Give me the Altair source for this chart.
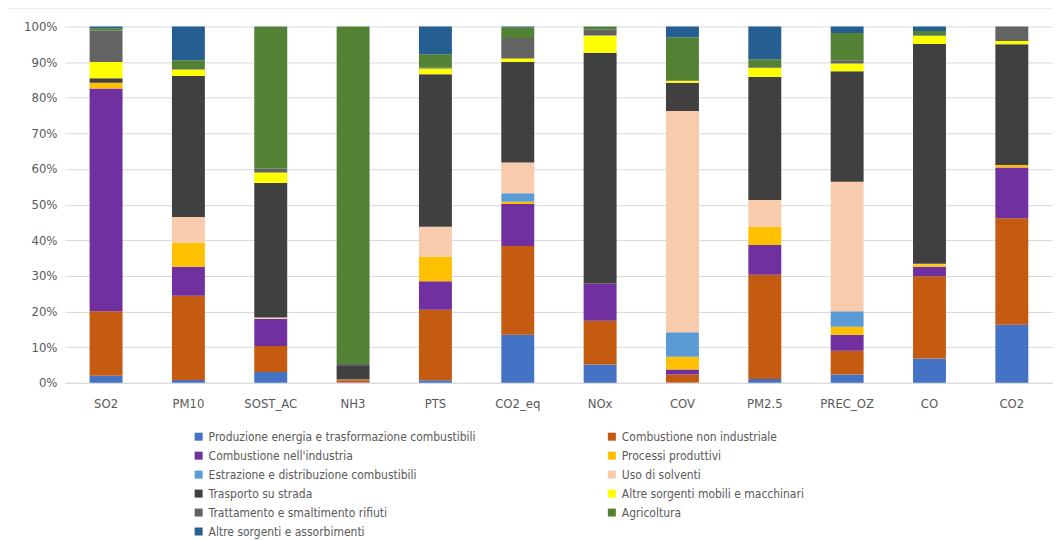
import altair as alt
import pandas as pd

categories = ["SO2", "PM10", "SOST_AC", "NH3", "PTS", "CO2_eq", "NOx", "COV", "PM2.5", "PREC_OZ", "CO", "CO2"]

series_names = [
    "Produzione energia e trasformazione combustibili",
    "Combustione non industriale",
    "Combustione nell'industria",
    "Processi produttivi",
    "Estrazione e distribuzione combustibili",
    "Uso di solventi",
    "Trasporto su strada",
    "Altre sorgenti mobili e macchinari",
    "Trattamento e smaltimento rifiuti",
    "Agricoltura",
    "Altre sorgenti e assorbimenti",
]

prod = [2.0, 0.8, 3.0, 0.1, 0.7, 13.5, 5.1, 0.1, 1.1, 2.3, 6.8, 16.3]
comb_non = [18.1, 23.6, 7.3, 0.6, 19.8, 24.9, 12.3, 2.2, 29.2, 6.7, 23.1, 29.9]
comb_ind = [62.5, 8.2, 7.6, 0.1, 8.0, 11.8, 10.3, 1.4, 8.4, 4.5, 2.7, 14.2]
processi = [1.6, 6.8, 0.1, 0.1, 6.9, 0.6, 0.1, 3.6, 5.1, 2.2, 0.7, 0.7]
estrazione = [0, 0, 0, 0, 0, 2.4, 0, 6.9, 0, 4.4, 0, 0]
solventi = [0, 7.1, 0.3, 0, 8.4, 8.6, 0, 62.1, 7.5, 36.3, 0.1, 0]
trasporto = [1.3, 39.6, 37.8, 3.8, 42.8, 28.2, 64.8, 7.9, 34.5, 31.0, 61.7, 33.9]
altre_mobili = [4.5, 1.8, 2.9, 0, 1.6, 1.0, 4.9, 0.6, 2.6, 2.2, 2.2, 0.9]
rifiuti = [8.9, 0.2, 1.1, 0.6, 0.2, 5.8, 1.6, 0.2, 0.2, 0.9, 0.2, 4.1]
agricoltura = [0.6, 2.4, 39.8, 94.7, 3.8, 3.0, 0.8, 12.0, 2.2, 7.7, 1.2, 0]
altre_sorgenti = [0.5, 9.5, 0.1, 0, 7.8, 0.2, 0.1, 3.0, 9.2, 1.8, 1.3, 0]

colors = ["#4472C4", "#C55A11", "#7030A0", "#FFC000", "#5B9BD5", "#F8CBAD",
          "#404040", "#FFFF00", "#636363", "#548235", "#255E91"]

all_series = [prod, comb_non, comb_ind, processi, estrazione, solventi,
              trasporto, altre_mobili, rifiuti, agricoltura, altre_sorgenti]

rows = []
for si, (name, vals) in enumerate(zip(series_names, all_series)):
    for cat, v in zip(categories, vals):
        rows.append({"cat": cat, "series": name, "idx": si, "val": v})
df = pd.DataFrame(rows)

# legend fills column by column: reorder so rows read pairwise as in the reference
legend_order = [0, 2, 4, 6, 8, 10, 1, 3, 5, 7, 9]
legend_domain = [series_names[i] for i in legend_order]
legend_range = [colors[i] for i in legend_order]

FONT = "Liberation Sans Narrow, DejaVu Sans Condensed, sans-serif"

bars = alt.Chart(df).mark_bar(strokeWidth=0).encode(
    x=alt.X("cat:N", sort=categories, title=None,
            scale=alt.Scale(paddingInner=0.6, paddingOuter=0.3),
            axis=alt.Axis(labelAngle=0, domain=True, domainColor="#d9d9d9", ticks=False,
                          labelPadding=15, labelFontSize=13, labelColor="#595959",
                          labelFont=FONT, grid=False)),
    y=alt.Y("val:Q", stack="normalize", title=None,
            scale=alt.Scale(domain=[0, 1], nice=False),
            axis=alt.Axis(values=[i / 10 for i in range(11)], format=".0%", domain=False,
                          ticks=False, labelPadding=8, labelFontSize=13, labelColor="#595959",
                          labelFont=FONT, gridColor="#d9d9d9", gridWidth=1)),
    color=alt.Color("series:N",
                    scale=alt.Scale(domain=legend_domain, range=legend_range),
                    legend=alt.Legend(title=None, orient="none", legendX=128, legendY=405,
                                      columns=2, columnPadding=130, rowPadding=7,
                                      symbolType="square", symbolSize=64, symbolStrokeWidth=0,
                                      labelFontSize=12, labelColor="#595959", labelFont=FONT,
                                      labelLimit=400, labelOffset=4)),
    order=alt.Order("idx:Q", sort="ascending"),
)

border = alt.Chart(pd.DataFrame({"a": [0]})).mark_rect(
    fill=None, filled=False, stroke="#d9d9d9", strokeWidth=1, clip=False
).encode(
    x=alt.value(-57.5), x2=alt.value(1200), y=alt.value(-18.5), y2=alt.value(700)
)

chart = alt.layer(border, bars).properties(
    width=990, height=357,
    autosize=alt.AutoSizeParams(type="none"),
    padding={"left": 57, "top": 18, "right": 0, "bottom": 160},
).configure_view(stroke=None)

chart.save("out.html", embed_options={"renderer": "svg", "actions": False})
